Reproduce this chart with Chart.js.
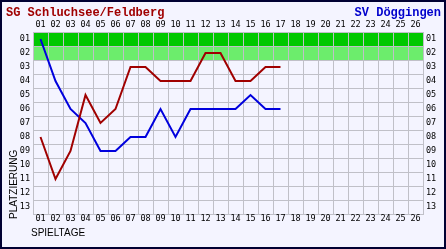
<!DOCTYPE html>
<html>
<head>
<meta charset="utf-8">
<script src="https://cdn.jsdelivr.net/npm/chart.js@4"></script>
<style>
  body { margin: 0; background: #f4f4ff; }
  #wrap { width: 446px; height: 249px; }
</style>
</head>
<body>
<div id="wrap"><canvas id="tabelle" width="446" height="249"></canvas></div>
<script>
// Platzierungsverlauf
const spieltage = ['01','02','03','04','05','06','07','08','09','10','11','12','13',
                   '14','15','16','17','18','19','20','21','22','23','24','25','26'];
const plaetze = ['01','02','03','04','05','06','07','08','09','10','11','12','13'];

const teamA = 'SG Schluchsee/Feldberg';
const teamB = 'SV Döggingen';
const schluchsee = [8, 11, 9, 5, 7, 6, 3, 3, 4, 4, 4, 2, 2, 4, 4, 3, 3];
const doeggingen = [1, 4, 6, 7, 9, 9, 8, 8, 6, 8, 6, 6, 6, 6, 5, 6, 6];

// Aufstiegszone
const zoneRows = [1, 2];
const zoneColors = ['#00c800', '#6ced6c'];

const gridColor = '#c0c0c8';
const tickFont = { family: 'DejaVu Sans Mono', size: 8.5 };

function toLabel(p) {
  return plaetze[p - 1];
}

const bandPlugin = {
  id: 'bands',
  beforeDraw(chart) {
    const c = chart.ctx;
    const y = chart.scales.y;
    const area = chart.chartArea;
    const half = (y.getPixelForValue(1) - y.getPixelForValue(0)) / 2;
    c.save();
    zoneRows.forEach((r, i) => {
      const mid = y.getPixelForValue(r - 1);
      c.fillStyle = zoneColors[i];
      c.fillRect(area.left, mid - half, area.right - area.left, half * 2);
    });
    c.restore();
  }
};

const textPlugin = {
  id: 'texte',
  afterDraw(chart) {
    const c = chart.ctx;
    c.save();
    c.font = 'bold 12px "Liberation Mono"';
    c.textBaseline = 'alphabetic';
    c.fillStyle = '#a00000';
    c.textAlign = 'left';
    c.fillText(teamA, 6, 16);
    c.fillStyle = '#0000cc';
    c.textAlign = 'right';
    c.fillText(teamB, 441, 16);

    c.fillStyle = '#000000';
    c.font = '10px "Liberation Sans"';
    c.textAlign = 'left';
    c.textBaseline = 'middle';
    c.fillText('SPIELTAGE', 31, 233);

    c.translate(14, 219);
    c.rotate(-Math.PI / 2);
    c.fillText('PLATZIERUNG', 0, 0);
    c.restore();

    c.save();
    c.strokeStyle = '#000033';
    c.lineWidth = 2;
    c.strokeRect(1, 1, 444, 247);
    c.restore();
  }
};

const ctx = document.getElementById('tabelle').getContext('2d');
const chart = new Chart(ctx, {
  type: 'line',
  data: {
    labels: spieltage,
    datasets: [{
      label: teamA,
      data: schluchsee.map(toLabel),
      borderColor: '#a00000',
      borderWidth: 2,
      pointRadius: 0,
      tension: 0
    }, {
      label: teamB,
      data: doeggingen.map(toLabel),
      borderColor: '#0000dd',
      borderWidth: 2,
      pointRadius: 0,
      tension: 0
    }]
  },
  options: {
    responsive: false,
    animation: false,
    layout: { padding: 0 },
    plugins: {
      legend: { display: false },
      tooltip: { enabled: false }
    },
    scales: {
      x: {
        type: 'category',
        position: 'top',
        offset: true,
        grid: { offset: true, color: gridColor, drawTicks: false },
        border: { color: gridColor },
        ticks: { font: tickFont, color: '#000', padding: 2, maxRotation: 0, autoSkip: false },
        afterFit(scale) { scale.height = 32; }
      },
      x2: {
        type: 'category',
        position: 'bottom',
        labels: spieltage,
        offset: true,
        grid: { display: false, drawTicks: false },
        border: { color: gridColor },
        ticks: { font: tickFont, color: '#000', padding: 0, maxRotation: 0, autoSkip: false },
        afterFit(scale) { scale.height = 35; }
      },
      y: {
        type: 'category',
        position: 'left',
        labels: plaetze,
        offset: true,
        grid: { offset: true, color: gridColor, drawTicks: false },
        border: { color: gridColor },
        ticks: { font: tickFont, color: '#000', padding: 3, autoSkip: false },
        afterFit(scale) { scale.width = 33; }
      },
      y2: {
        type: 'category',
        position: 'right',
        labels: plaetze,
        offset: true,
        grid: { display: false, drawTicks: false },
        border: { color: gridColor },
        ticks: { font: tickFont, color: '#000', padding: 3, autoSkip: false },
        afterFit(scale) { scale.width = 23; }
      }
    }
  },
  plugins: [bandPlugin, textPlugin]
});
</script>
</body>
</html>
